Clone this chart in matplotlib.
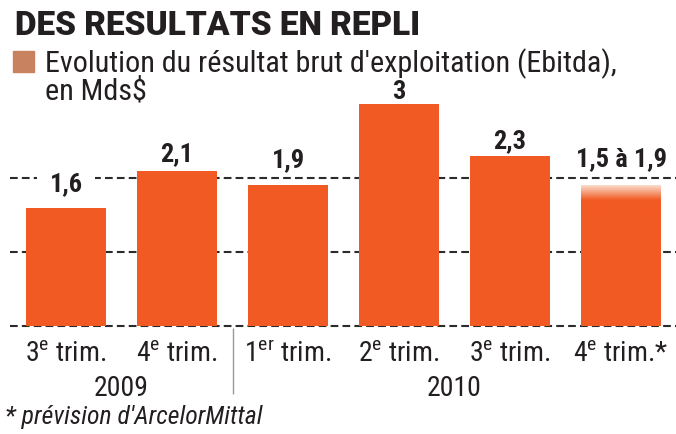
import numpy as np
import matplotlib
matplotlib.use('Agg')
import matplotlib.pyplot as plt
from matplotlib.colors import LinearSegmentedColormap

# Data (Ebitda, Mds$)
periods = [r"3$^{\mathrm{e}}$ trim.", r"4$^{\mathrm{e}}$ trim.", r"1$^{\mathrm{er}}$ trim.",
           r"2$^{\mathrm{e}}$ trim.", r"3$^{\mathrm{e}}$ trim.", r"4$^{\mathrm{e}}$ trim.*"]
values = [1.6, 2.1, 1.9, 3.0, 2.3, 1.5]
value_labels = ["1,6", "2,1", "1,9", "3", "2,3", "1,5 à 1,9"]
forecast_low = 1.5
forecast_high = 1.9
years = ["2009", "2010"]
year_groups = [[0, 1], [2, 3, 4, 5]]
gridvals = [0, 1, 2]

# gap (px) between bar top and label baseline, as in the original
label_gap = [17, 10, 19, 6, 9, 20]

FONT = ['Roboto Condensed', 'DejaVu Sans']
plt.rcParams['font.family'] = FONT
plt.rcParams['mathtext.fontset'] = 'custom'
plt.rcParams['mathtext.rm'] = 'Roboto Condensed'

ORANGE = '#F15A22'
TXT = '#231F20'

W, H = 676, 435
fig = plt.figure(figsize=(W / 100, H / 100), dpi=100)
ax = fig.add_axes([0, 0, 1, 1])
ax.axis('off')

# pixel mapping: bar centres at 66 + 111*i, baseline at y=327, 74 px per unit
px_unit = 74.0
base = 327
xlim = (-66 / 111, (W - 66) / 111)
ylim = (-(H - base) / px_unit, base / px_unit)

x = np.arange(len(values))
bw = 0.72

# dashed grid
for g in gridvals:
    ax.hlines(g, (10 - 66) / 111, xlim[1], colors='#2b2b2b', linewidth=1.5,
              linestyles=(0, (3.7, 2.0)), zorder=1)

bars = ax.bar(x, values, width=bw, color=ORANGE, zorder=2)

# forecast gradient on the last bar
cmap = LinearSegmentedColormap.from_list('fade', [ORANGE, ORANGE, '#FBDCCB'])
grad = np.linspace(0, 1, 100).reshape(-1, 1)
ax.imshow(grad, cmap=cmap, aspect='auto', origin='lower', zorder=2,
          extent=[x[-1] - bw / 2, x[-1] + bw / 2, forecast_low, forecast_high])
ax.set_xlim(*xlim)
ax.set_ylim(*ylim)

tops = values[:-1] + [forecast_high]
for xi, t, lab, gap in zip(x, tops, value_labels, label_gap):
    y0 = t + gap / px_unit
    # white knock-out when a grid line runs through the label
    crosses = any(y0 - 0.05 < g < y0 + 0.3 for g in gridvals)
    bb = dict(facecolor='white', edgecolor='none', pad=9) if crosses else None
    ax.text(xi, y0, lab, ha='center', va='baseline', fontsize=19,
            fontweight='bold', color=TXT, zorder=3, bbox=bb)

for xi, lab in zip(x, periods):
    ax.text(xi, -35 / px_unit, lab, ha='center', va='baseline', fontsize=20,
            color=TXT)

for yr, grp in zip(years, year_groups):
    ax.text(np.mean(grp), -69 / px_unit, yr, ha='center', va='baseline',
            fontsize=20, color=TXT)

ax.vlines(1.5, -68 / px_unit, -2 / px_unit, colors='#999999', linewidth=1)

# title and legend
fig.text(15 / W, 1 - 35 / H, "DES RESULTATS EN REPLI", fontsize=24,
         fontweight='heavy', family=['Roboto', 'DejaVu Sans'], color=TXT,
         va='baseline', ha='left')
fig.patches.append(plt.Rectangle((13 / W, 1 - 73 / H), 21 / W, 21 / H,
                                 transform=fig.transFigure, color='#C8825F'))
fig.text(45 / W, 1 - 72 / H, "Evolution du résultat brut d'exploitation (Ebitda),",
         fontsize=21.7, color=TXT, va='baseline', ha='left')
fig.text(45 / W, 1 - 100 / H, "en Mds$", fontsize=21.7, color=TXT, va='baseline', ha='left')

fig.text(5 / W, 1 - 424 / H, "* prévision d'ArcelorMittal", fontsize=18.5,
         style='italic', color=TXT, va='baseline', ha='left')

fig.savefig('out.png', dpi=100)
